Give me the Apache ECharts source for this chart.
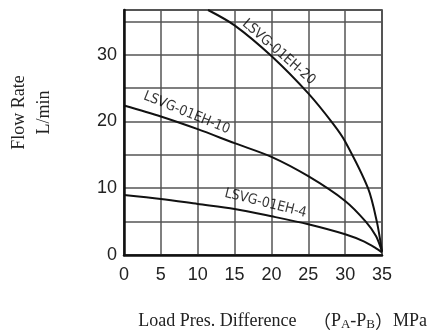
<!DOCTYPE html>
<html>
<head>
<meta charset="utf-8">
<script src="https://cdn.jsdelivr.net/npm/echarts@6/dist/echarts.min.js"></script>
<style>html,body{margin:0;padding:0;background:#fff;}#c{width:427px;height:331px;}</style>
</head>
<body>
<div id="c"></div>
<script>
// Data
var xTicks = [0, 5, 10, 15, 20, 25, 30, 35];
var yTickLabels = [0, 10, 20, 30];
var eh20 = [[11.4,36.7],[15,34.4],[20,29.8],[25,24.2],[28.4,19.6],[30,17],[33.1,10],[34.3,5],[35,0.5]];
var eh10 = [[0,22.4],[5,20.75],[10,18.85],[15,16.75],[20,14.7],[25,11.8],[30,8.1],[32.8,5],[34.2,2.8],[35,0.5]];
var eh4  = [[0,9],[5,8.4],[10,7.65],[15,6.9],[20,5.8],[25,4.6],[30,3.1],[32.6,2.0],[34.2,1.0],[35,0.4]];
var seriesNames = ['LSVG-01EH-20', 'LSVG-01EH-10', 'LSVG-01EH-4'];
var labelPos = [[21.0, 30.4], [8.5, 21.3], [19.2, 7.75]];
var labelAngle = [-41, -22, -14];

var chart = echarts.init(document.getElementById('c'));
var lineData = [eh20, eh10, eh4];
var series = lineData.map(function (d, i) {
  return {
    type: 'line', name: seriesNames[i], data: d, smooth: 0.3, showSymbol: false,
    lineStyle: { color: '#111', width: 2 }, z: 3
  };
});
series.push({
  type: 'scatter', symbolSize: 0, z: 4,
  data: labelPos.map(function (p, i) {
    return { value: p, name: seriesNames[i], label: { rotate: labelAngle[i] } };
  }),
  label: {
    show: true, position: 'inside', formatter: '{b}',
    color: '#000', fontSize: 14,
    fontFamily: "'DejaVu Sans Condensed', 'Liberation Sans Narrow', sans-serif"
  }
});

chart.setOption({
  animation: false,
  grid: { left: 124, right: 45, top: 10, bottom: 76, show: true, borderColor: '#222', borderWidth: 1.5,
    outerBoundsMode: 'none', containLabel: false },
  xAxis: {
    type: 'value', min: 0, max: 35, interval: 5,
    axisLine: { show: true, lineStyle: { color: '#111', width: 2.5 } },
    axisTick: { show: false },
    splitLine: { show: true, lineStyle: { color: '#555', width: 1.5 } },
    axisLabel: { color: '#222', fontSize: 18, margin: 11, fontFamily: "'Liberation Sans', Arial, sans-serif",
      formatter: function (v) { return xTicks.indexOf(v) >= 0 ? String(v) : ''; } }
  },
  yAxis: {
    type: 'value', min: 0, max: 36.7, interval: 5,
    name: 'Flow Rate\nL/min', nameLocation: 'middle', nameRotate: 90, nameGap: 67,
    nameTextStyle: { color: '#222', fontSize: 18, lineHeight: 25, padding: [0, 0, 0, 40],
      fontFamily: "'Liberation Serif', 'Times New Roman', serif" },
    axisLine: { show: true, lineStyle: { color: '#111', width: 2.5 } },
    axisTick: { show: false },
    splitLine: { show: true, lineStyle: { color: '#555', width: 1.5 } },
    axisLabel: { color: '#222', fontSize: 18, margin: 7, fontFamily: "'Liberation Sans', Arial, sans-serif",
      formatter: function (v) { return yTickLabels.indexOf(v) >= 0 ? String(v) : ''; } }
  },
  graphic: [{
    type: 'text', right: 0, top: 312,
    style: {
      text: 'Load Pres. Difference {p|（}P{s|A}-P{s|B}{q|）}MPa',
      fill: '#222', fontSize: 18, fontFamily: "'Liberation Serif', 'Times New Roman', serif",
      rich: {
        s: { fontSize: 13, verticalAlign: 'bottom', padding: [8, 0, 0, 0], fontFamily: "'Liberation Serif', serif", fill: '#222' },
        p: { fontSize: 18, padding: [0, 0, 0, 12], fontFamily: "'Noto Sans CJK SC', serif", fill: '#222' },
        q: { fontSize: 18, fontFamily: "'Noto Sans CJK SC', serif", fill: '#222' }
      }
    }
  }],
  series: series
});
</script>
</body>
</html>
